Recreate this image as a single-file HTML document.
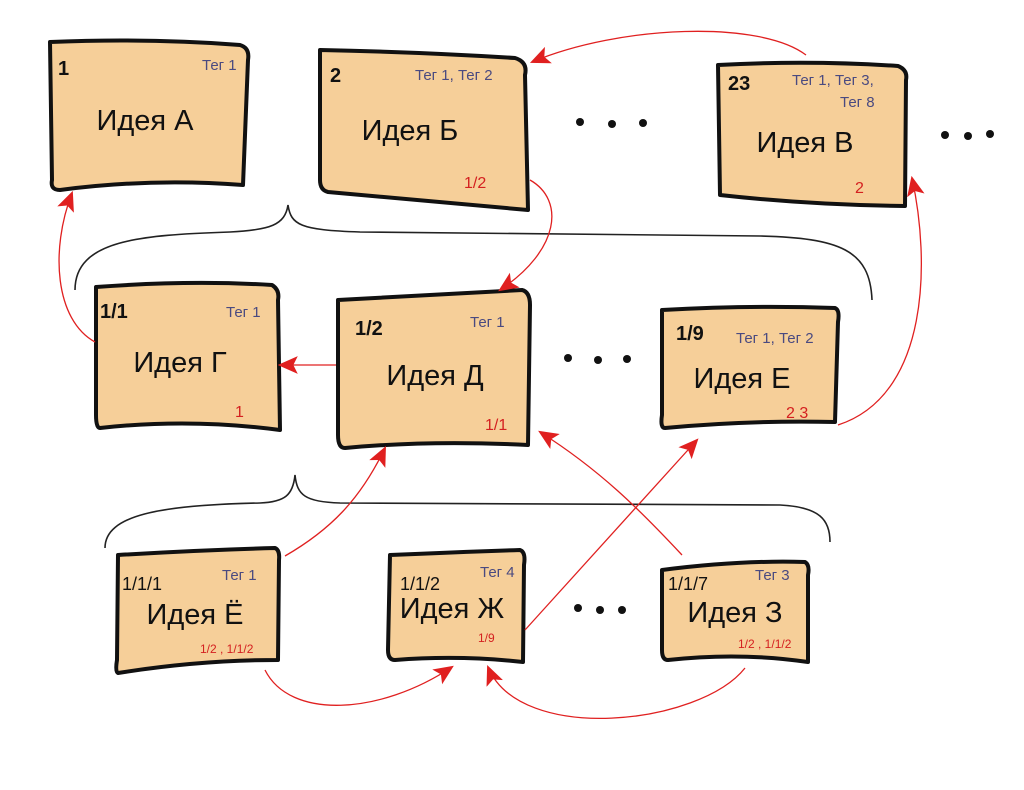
<!DOCTYPE html>
<html><head><meta charset="utf-8"><style>
html,body{margin:0;padding:0;background:#fff;}
svg{display:block}
.t{font-family:"Liberation Sans","DejaVu Sans",sans-serif;}
</style></head><body>
<svg width="1024" height="790" viewBox="0 0 1024 790" xmlns="http://www.w3.org/2000/svg">
<defs>
<marker id="ah" markerWidth="20" markerHeight="20" refX="16" refY="8" orient="auto" markerUnits="userSpaceOnUse" viewBox="0 0 18 16">
<path d="M0,0 L18,8 L0,16 L4,8 z" fill="#e02020"/>
</marker>
</defs>
<g fill="none" stroke="#222" stroke-width="1.6">
<path d="M75,290 C75,240 140,235 230,232 C270,230 285,225 288,205 C291,225 300,230 360,232 L760,236 C840,238 870,250 872,300"/>
<path d="M105,548 C105,515 160,505 260,503 C285,502 293,495 295,475 C297,495 305,502 340,503 L780,505 C820,507 830,520 830,542"/>
</g>
<g fill="#f6cf99" stroke="#111" stroke-width="4" stroke-linejoin="round">
<path d="M50,42 Q150,38 240,45 Q250,48 248,60 L243,185 Q150,178 60,190 Q50,190 52,180 Z"/>
<path d="M320,50 Q420,52 515,58 Q528,62 525,75 L528,210 Q420,200 328,192 Q320,190 320,180 Z"/>
<path d="M718,65 Q810,60 898,66 Q908,70 906,80 L905,206 Q810,205 720,195 Z"/>
<path d="M96,287 Q190,280 272,285 Q280,290 278,300 L280,430 Q190,418 100,428 Q96,428 96,415 Z"/>
<path d="M338,300 Q430,295 522,290 Q530,292 530,305 L528,445 Q430,440 345,448 Q338,448 338,435 Z"/>
<path d="M662,310 Q750,305 835,308 Q840,310 838,322 L835,422 Q750,420 665,428 Q660,428 662,415 Z"/>
<path d="M118,555 Q200,550 275,548 Q280,550 279,560 L278,660 Q200,660 118,673 Q115,672 117,660 Z"/>
<path d="M390,555 Q460,552 520,550 Q526,552 524,565 L523,662 Q460,655 395,660 Q388,660 388,650 Z"/>
<path d="M662,570 Q740,560 805,562 Q810,565 808,575 L808,662 Q740,652 668,660 Q662,660 662,650 Z"/>
</g>
<g fill="none" stroke="#e02020" stroke-width="1.3">
<path d="M806,55 C760,20 620,25 532,62" marker-end="url(#ah)"/>
<path d="M530,180 C565,200 560,250 500,290" marker-end="url(#ah)"/>
<path d="M95,342 C55,320 50,250 72,193" marker-end="url(#ah)"/>
<path d="M336,365 L280,365" marker-end="url(#ah)"/>
<path d="M838,425 C930,395 930,260 912,178" marker-end="url(#ah)"/>
<path d="M285,556 C330,530 360,500 385,448" marker-end="url(#ah)"/>
<path d="M525,630 L697,440" marker-end="url(#ah)"/>
<path d="M682,555 C640,510 600,470 540,432" marker-end="url(#ah)"/>
<path d="M265,670 C290,720 380,715 452,667" marker-end="url(#ah)"/>
<path d="M745,668 C700,725 520,745 488,667" marker-end="url(#ah)"/>
</g>
<g fill="#111">
<circle cx="580" cy="122" r="4"/><circle cx="612" cy="124" r="4"/><circle cx="643" cy="123" r="4"/>
<circle cx="945" cy="135" r="4"/><circle cx="968" cy="136" r="4"/><circle cx="990" cy="134" r="4"/>
<circle cx="568" cy="358" r="4"/><circle cx="598" cy="360" r="4"/><circle cx="627" cy="359" r="4"/>
<circle cx="578" cy="608" r="4"/><circle cx="600" cy="610" r="4"/><circle cx="622" cy="610" r="4"/>
</g>
<g class="t">
<g font-weight="bold" fill="#111" font-size="20">
<text x="58" y="75">1</text>
<text x="330" y="82">2</text>
<text x="728" y="90">23</text>
<text x="100" y="318">1/1</text>
<text x="355" y="335">1/2</text>
<text x="676" y="340">1/9</text>
</g>
<g fill="#111" font-size="18">
<text x="122" y="590">1/1/1</text>
<text x="400" y="590">1/1/2</text>
<text x="668" y="590">1/1/7</text>
</g>
<g fill="#111" font-size="29" text-anchor="middle">
<text x="145" y="130">Идея А</text>
<text x="410" y="140">Идея Б</text>
<text x="805" y="152">Идея В</text>
<text x="180" y="372">Идея Г</text>
<text x="435" y="385">Идея Д</text>
<text x="742" y="388">Идея Е</text>
<text x="195" y="624">Идея Ё</text>
<text x="452" y="618">Идея Ж</text>
<text x="735" y="622">Идея З</text>
</g>
<g fill="#4a4a80" font-size="15">
<text x="202" y="70">Тег 1</text>
<text x="415" y="80">Тег 1, Тег 2</text>
<text x="792" y="85">Тег 1, Тег 3,</text>
<text x="840" y="107">Тег 8</text>
<text x="226" y="317">Тег 1</text>
<text x="470" y="327">Тег 1</text>
<text x="736" y="343">Тег 1, Тег 2</text>
<text x="222" y="580">Тег 1</text>
<text x="480" y="577">Тег 4</text>
<text x="755" y="580">Тег 3</text>
</g>
<g fill="#d42020" font-size="16">
<text x="464" y="188">1/2</text>
<text x="855" y="193">2</text>
<text x="235" y="417">1</text>
<text x="485" y="430">1/1</text>
<text x="786" y="418">2 3</text>
<text x="200" y="653" font-size="12">1/2 , 1/1/2</text>
<text x="478" y="642" font-size="12">1/9</text>
<text x="738" y="648" font-size="12">1/2 , 1/1/2</text>
</g>
</g>
</svg>
</body></html>
